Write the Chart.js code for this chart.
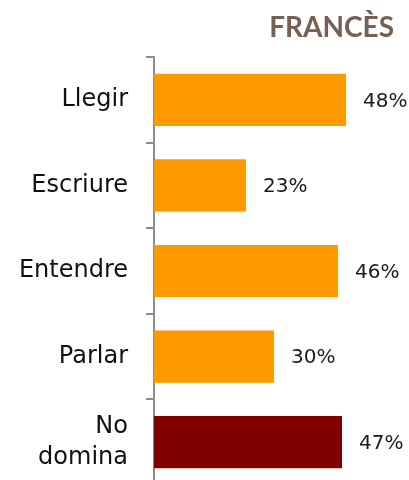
<!DOCTYPE html>
<html>
<head>
<meta charset="utf-8">
<script src="https://cdn.jsdelivr.net/npm/chart.js@4/dist/chart.umd.min.js"></script>
<style>
    html, body { margin: 0; padding: 0; background: #fff; overflow: hidden; }
    #wrap { width: 409px; height: 486px; }
</style>
</head>
<body>
<div id="wrap"><canvas id="francesChart" width="409" height="486"></canvas></div>
<script>
// Data
const categories = ['Llegir', 'Escriure', 'Entendre', 'Parlar', ['No', 'domina']];
const percentages = [48, 23, 46, 30, 47];
const barColors = ['#FF9900', '#FF9900', '#FF9900', '#FF9900', '#800000'];
const chartTitle = 'FRANCÈS';

// Draw the "48%" style labels after each bar
const valueLabels = {
    id: 'valueLabels',
    afterDatasetsDraw(chart) {
        const ctx = chart.ctx;
        const meta = chart.getDatasetMeta(0);
        ctx.save();
        ctx.font = '20px "DejaVu Sans"';
        ctx.fillStyle = '#1a1a1a';
        ctx.textAlign = 'left';
        ctx.textBaseline = 'middle';
        meta.data.forEach((bar, i) => {
            ctx.fillText(percentages[i] + '%', bar.x + 17, bar.y + 1.5);
        });
        ctx.restore();
    }
};

const ctx = document.getElementById('francesChart').getContext('2d');
new Chart(ctx, {
    type: 'bar',
    data: {
        labels: categories,
        datasets: [{
            data: percentages,
            backgroundColor: barColors,
            borderWidth: 0,
            categoryPercentage: 1,
            barPercentage: 0.61
        }]
    },
    options: {
        indexAxis: 'y',
        responsive: false,
        animation: false,
        layout: { padding: { left: 0, right: 15, top: 0, bottom: 1 } },
        plugins: {
            legend: { display: false },
            tooltip: { enabled: false },
            title: {
                display: true,
                text: chartTitle,
                align: 'end',
                color: '#765F53',
                font: { family: 'Lato', size: 28, weight: 'bold', lineHeight: 1.2 },
                padding: { top: 11, bottom: 12.4 }
            }
        },
        scales: {
            x: {
                display: false,
                min: 0,
                max: 60
            },
            y: {
                afterFit(scale) {
                    scale.width = 154;
                    // no extra room for the first/last label, the axis runs to the edge
                    scale.paddingTop = 0;
                    scale.paddingBottom = 0;
                },
                border: { display: true, color: '#8c8c8c', width: 2 },
                grid: {
                    display: true,
                    drawOnChartArea: false,
                    drawTicks: true,
                    tickLength: 8,
                    color: '#8c8c8c',
                    lineWidth: 2,
                    offset: true
                },
                ticks: {
                    padding: 18,
                    color: '#111',
                    font: { family: 'DejaVu Sans', size: 24, lineHeight: 1.28 }
                }
            }
        }
    },
    plugins: [valueLabels]
});
</script>
</body>
</html>
